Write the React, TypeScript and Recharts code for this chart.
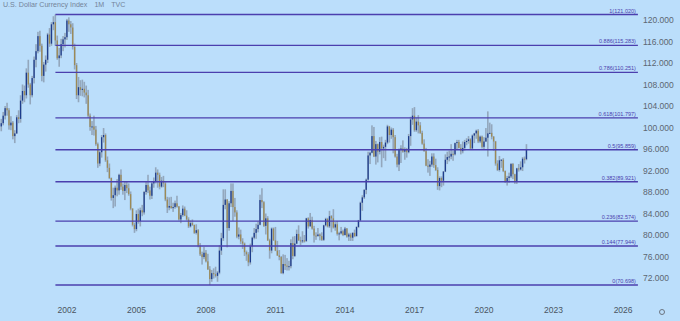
import React from "react";
import {
  ComposedChart,
  Bar,
  XAxis,
  YAxis,
  ReferenceLine,
} from "recharts";

// U.S. Dollar Index, monthly candles, Mar 1999 .. Nov 2021
const START_YEAR = 1999;
const START_MONTH = 3;

const OPEN = [
  100.2, 100.8, 102.2, 103.6, 103.2, 100.4, 100.9, 98.4, 98.9, 101.9, // 1999
  101.6, 105.0, 106.8, 106.0, 110.2, 108.0, 106.0, 109.2, 112.6, 114.2, 117.0, 115.2, // 2000
  109.6, 111.7, 112.6, 117.3, 115.6, 119.2, 119.6, 116.2, 112.9, 113.4, 115.5, 116.4, // 2001
  116.8, 119.9, 119.2, 118.6, 115.0, 111.6, 106.0, 107.5, 107.0, 107.2, 106.5, 106.0, // 2002
  102.2, 100.1, 100.2, 99.6, 96.9, 93.3, 95.4, 98.2, 98.6, 93.9, 92.5, 90.6, // 2003
  86.9, 87.4, 88.8, 88.3, 91.2, 89.0, 88.2, 89.3, 88.7, 87.6, 84.9, 81.9, // 2004
  81.1, 83.9, 82.6, 84.6, 84.2, 88.0, 89.3, 88.3, 87.3, 89.6, 89.9, 91.6, // 2005
  91.2, 89.0, 90.1, 89.6, 86.6, 85.1, 85.4, 85.0, 85.2, 85.9, 85.3, 82.9, // 2006
  83.7, 84.9, 83.6, 82.9, 81.6, 82.2, 81.9, 80.4, 80.9, 78.0, 76.4, 75.9, // 2007
  76.7, 75.1, 73.6, 71.8, 72.9, 72.7, 72.4, 73.0, 77.1, 79.4, 85.6, 86.6, // 2008
  81.3, 85.9, 88.2, 85.2, 84.2, 79.7, 80.1, 78.8, 78.4, 76.8, 76.4, 74.9, // 2009
  77.9, 79.5, 80.4, 81.1, 81.9, 86.5, 86.1, 81.7, 83.1, 79.0, 77.1, 81.2, // 2010
  79.0, 77.1, 76.2, 75.9, 72.9, 74.6, 74.3, 74.1, 74.2, 78.5, 76.1, 78.4, // 2011
  80.2, 79.0, 78.9, 79.0, 78.9, 83.1, 81.6, 82.8, 81.2, 79.9, 79.8, 80.1, // 2012
  79.8, 79.1, 81.8, 83.0, 81.6, 83.5, 83.1, 81.4, 82.0, 80.2, 80.3, 80.7, // 2013
  80.0, 81.2, 79.7, 80.1, 79.5, 80.4, 79.8, 81.5, 82.7, 86.0, 87.0, 88.4, // 2014
  90.3, 94.8, 95.3, 98.4, 94.6, 96.9, 95.5, 97.3, 96.1, 96.4, 97.2, 100.2, // 2015
  98.6, 99.6, 98.2, 94.6, 93.1, 95.9, 96.1, 95.5, 96.0, 95.4, 98.4, 101.5, // 2016
  102.2, 99.5, 101.1, 100.4, 99.0, 97.0, 95.6, 92.9, 92.7, 93.1, 94.6, 93.0, // 2017
  92.1, 89.1, 90.6, 90.1, 91.8, 94.0, 94.5, 94.6, 95.1, 95.0, 97.1, 97.3, // 2018
  96.2, 95.6, 96.2, 97.3, 97.5, 97.8, 96.1, 98.5, 98.9, 99.4, 97.4, 98.3, // 2019
  96.4, 97.4, 98.1, 98.9, 99.0, 98.3, 97.4, 93.3, 92.1, 93.9, 94.0, 91.9, // 2020
  89.9, 90.6, 90.9, 93.2, 91.3, 90.0, 92.4, 92.2, 92.6, 94.2, 94.1, // 2021
];

const HIGH = [
  101.6, 102.9, 104.0, 104.6, 103.6, 102.1, 101.2, 99.5, 102.3, 103.2,
  106.0, 108.0, 107.8, 111.0, 112.6, 108.3, 109.6, 113.2, 115.5, 117.8, 118.0, 115.6,
  112.2, 113.4, 117.6, 118.5, 119.6, 120.7, 121.02, 117.1, 114.8, 116.5, 117.0, 117.6,
  120.2, 120.5, 119.8, 119.4, 115.6, 112.0, 109.4, 108.8, 108.9, 108.5, 107.8, 107.0,
  102.6, 101.2, 102.2, 100.3, 97.2, 95.7, 98.6, 99.9, 98.9, 94.6, 93.3, 90.7,
  88.8, 89.2, 90.4, 91.4, 92.2, 89.6, 89.9, 89.9, 89.6, 88.1, 85.0, 82.3,
  84.6, 84.9, 85.1, 85.6, 88.2, 89.9, 91.2, 89.0, 89.9, 90.7, 92.6, 92.2,
  91.6, 90.8, 91.0, 90.0, 87.1, 87.0, 87.1, 86.0, 86.4, 87.3, 85.4, 84.1,
  85.5, 85.3, 84.6, 83.3, 82.7, 82.9, 81.9, 82.0, 81.1, 78.5, 76.9, 77.8,
  77.2, 76.5, 74.2, 73.5, 73.8, 74.1, 73.3, 78.1, 80.4, 88.5, 88.5, 86.7,
  86.3, 89.6, 89.6, 86.9, 84.6, 81.4, 81.0, 79.4, 78.6, 77.1, 76.8, 78.4,
  79.7, 81.3, 82.1, 82.5, 87.5, 88.7, 86.3, 84.0, 83.5, 79.3, 81.4, 81.4,
  81.5, 78.9, 77.2, 76.1, 76.4, 76.3, 75.7, 75.2, 79.2, 79.7, 79.8, 81.0,
  81.8, 79.7, 80.7, 80.0, 83.2, 83.3, 84.1, 83.4, 81.7, 80.5, 81.3, 80.3,
  80.5, 81.9, 83.2, 83.2, 84.5, 83.7, 84.8, 82.4, 82.6, 80.6, 81.5, 81.0,
  81.5, 81.3, 80.4, 80.4, 80.5, 81.0, 81.6, 82.8, 86.2, 87.4, 88.5, 90.5,
  95.5, 95.5, 100.4, 100.1, 97.5, 97.0, 98.2, 98.3, 96.8, 97.7, 100.5, 100.3,
  100.0, 99.9, 98.6, 95.1, 96.1, 96.7, 97.6, 96.3, 96.2, 98.8, 102.0, 103.6,
  103.8, 101.8, 102.3, 101.0, 99.4, 97.8, 96.2, 94.1, 93.8, 95.2, 95.2, 94.2,
  92.6, 90.9, 90.9, 91.9, 95.0, 95.5, 95.7, 96.9, 95.7, 97.2, 97.7, 97.7,
  96.9, 97.4, 97.7, 98.0, 98.4, 98.0, 98.7, 99.0, 99.6, 99.7, 98.5, 98.5,
  98.2, 99.9, 103.0, 100.9, 100.6, 98.4, 97.5, 93.9, 94.7, 94.1, 94.3, 92.0,
  91.0, 91.6, 93.4, 93.4, 91.4, 92.5, 93.2, 93.7, 94.5, 94.6, 96.9,
];

const LOW = [
  99.3, 100.4, 101.5, 102.2, 99.6, 99.5, 97.8, 97.1, 98.8, 100.8,
  100.9, 104.4, 104.7, 105.4, 107.4, 104.3, 105.6, 108.2, 111.2, 113.8, 114.1, 108.6,
  108.4, 110.4, 112.0, 115.0, 115.2, 118.1, 115.2, 112.6, 111.3, 112.9, 114.2, 114.9,
  116.3, 117.8, 117.4, 114.5, 110.8, 105.3, 104.7, 105.9, 105.8, 105.6, 104.4, 101.8,
  99.4, 98.6, 98.5, 96.6, 92.5, 92.8, 94.4, 97.2, 93.6, 91.7, 90.4, 86.4,
  85.0, 85.3, 87.2, 87.5, 88.4, 87.5, 86.5, 87.8, 87.3, 84.6, 81.6, 80.4,
  80.7, 82.1, 81.6, 83.5, 83.8, 87.5, 87.8, 86.6, 86.7, 88.8, 89.6, 88.8,
  88.5, 88.8, 88.9, 86.3, 84.1, 84.6, 84.9, 84.3, 84.9, 85.1, 82.7, 82.2,
  83.4, 83.5, 82.7, 81.3, 81.4, 81.7, 80.2, 80.1, 77.7, 76.1, 74.5, 75.5,
  74.9, 73.5, 70.7, 71.3, 71.9, 72.1, 71.3, 72.7, 76.3, 78.9, 84.8, 77.7,
  80.8, 85.2, 82.6, 83.4, 79.4, 79.2, 78.3, 77.4, 76.1, 75.2, 74.2, 74.5,
  76.8, 79.2, 79.3, 80.5, 81.8, 85.0, 81.5, 80.1, 78.9, 75.6, 76.6, 78.9,
  77.0, 76.1, 75.3, 72.8, 72.7, 73.5, 73.4, 73.4, 73.8, 75.5, 75.9, 78.3,
  78.9, 78.1, 78.5, 78.6, 78.7, 81.2, 81.6, 81.0, 78.6, 79.1, 79.7, 79.0,
  78.9, 78.9, 81.6, 81.4, 81.3, 80.5, 81.2, 80.8, 79.9, 79.0, 80.1, 79.8,
  79.9, 79.5, 78.9, 78.9, 78.9, 79.6, 79.7, 81.3, 82.6, 84.5, 86.7, 87.6,
  90.1, 93.2, 95.2, 94.5, 93.1, 93.5, 95.0, 92.6, 94.3, 93.8, 96.9, 97.2,
  97.9, 95.2, 94.4, 92.6, 91.9, 93.4, 95.3, 94.0, 94.4, 95.2, 96.6, 100.5,
  99.2, 99.2, 98.9, 98.8, 96.8, 95.5, 92.8, 91.6, 91.0, 92.7, 92.5, 91.9,
  88.4, 88.3, 88.9, 89.2, 91.7, 93.2, 93.7, 94.1, 93.8, 94.8, 96.0, 96.1,
  95.0, 95.2, 95.7, 96.7, 97.0, 95.8, 95.8, 97.1, 97.9, 97.1, 97.1, 96.1,
  96.0, 97.3, 94.6, 98.8, 97.8, 95.7, 92.9, 91.9, 91.8, 92.5, 91.7, 89.7,
  89.2, 89.7, 90.6, 90.4, 89.5, 89.5, 91.8, 92.0, 91.9, 93.3, 93.9,
];

const CLOSE = [
  100.8, 102.2, 103.6, 103.2, 100.4, 100.9, 98.4, 98.9, 101.9, 101.6,
  105.0, 106.8, 106.0, 110.2, 108.0, 106.0, 109.2, 112.6, 114.2, 117.0, 115.2, 109.6,
  111.7, 112.6, 117.3, 115.6, 119.2, 119.6, 116.2, 112.9, 113.4, 115.5, 116.4, 116.8,
  119.9, 119.2, 118.6, 115.0, 111.6, 106.0, 107.5, 107.0, 107.2, 106.5, 106.0, 102.2,
  100.1, 100.2, 99.6, 96.9, 93.3, 95.4, 98.2, 98.6, 93.9, 92.5, 90.6, 86.9,
  87.4, 88.8, 88.3, 91.2, 89.0, 88.2, 89.3, 88.7, 87.6, 84.9, 81.9, 81.1,
  83.9, 82.6, 84.6, 84.2, 88.0, 89.3, 88.3, 87.3, 89.6, 89.9, 91.6, 91.2,
  89.0, 90.1, 89.6, 86.6, 85.1, 85.4, 85.0, 85.2, 85.9, 85.3, 82.9, 83.7,
  84.9, 83.6, 82.9, 81.6, 82.2, 81.9, 80.4, 80.9, 78.0, 76.4, 75.9, 76.7,
  75.1, 73.6, 71.8, 72.9, 72.7, 72.4, 73.0, 77.1, 79.4, 85.6, 86.6, 81.3,
  85.9, 88.2, 85.2, 84.2, 79.7, 80.1, 78.8, 78.4, 76.8, 76.4, 74.9, 77.9,
  79.5, 80.4, 81.1, 81.9, 86.5, 86.1, 81.7, 83.1, 79.0, 77.1, 81.2, 79.0,
  77.1, 76.2, 75.9, 72.9, 74.6, 74.3, 74.1, 74.2, 78.5, 76.1, 78.4, 80.2,
  79.0, 78.9, 79.0, 78.9, 83.1, 81.6, 82.8, 81.2, 79.9, 79.8, 80.1, 79.8,
  79.1, 81.8, 83.0, 81.6, 83.5, 83.1, 81.4, 82.0, 80.2, 80.3, 80.7, 80.0,
  81.2, 79.7, 80.1, 79.5, 80.4, 79.8, 81.5, 82.7, 86.0, 87.0, 88.4, 90.3,
  94.8, 95.3, 98.4, 94.6, 96.9, 95.5, 97.3, 96.1, 96.4, 97.2, 100.2, 98.6,
  99.6, 98.2, 94.6, 93.1, 95.9, 96.1, 95.5, 96.0, 95.4, 98.4, 101.5, 102.2,
  99.5, 101.1, 100.4, 99.0, 97.0, 95.6, 92.9, 92.7, 93.1, 94.6, 93.0, 92.1,
  89.1, 90.6, 90.1, 91.8, 94.0, 94.5, 94.6, 95.1, 95.0, 97.1, 97.3, 96.2,
  95.6, 96.2, 97.3, 97.5, 97.8, 96.1, 98.5, 98.9, 99.4, 97.4, 98.3, 96.4,
  97.4, 98.1, 98.9, 99.0, 98.3, 97.4, 93.3, 92.1, 93.9, 94.0, 91.9, 89.9,
  90.6, 90.9, 93.2, 91.3, 90.0, 92.4, 92.2, 92.6, 94.2, 94.1, 96.0,
];

// Fibonacci retracement drawn from the Jul 2001 high to the Mar 2008 low
const FIB_RATIOS = ["1", "0.886", "0.786", "0.618", "0.5", "0.382", "0.236", "0.144", "0"];
const FIB_PRICES = [121.02, 115.283, 110.251, 101.797, 95.859, 89.921, 82.574, 77.944, 70.698];
const FIB_FROM = 2001.5;
const FIB_TO = 2026.64;

const YEAR_TICKS = [2002, 2005, 2008, 2011, 2014, 2017, 2020, 2023, 2026];
const PRICE_TICKS = [72, 76, 80, 84, 88, 92, 96, 100, 104, 108, 112, 116, 120];
const TITLE_PARTS = ["U.S. Dollar Currency Index", "1M", "TVC"];

const BG = "#bbdefb";
const UP = "#1d3c8c";
const DOWN = "#9c8a56";
const WICK = "#8c9db2";
const FIB = "#4b3fae";

const data = CLOSE.map((c, i) => ({
  t: START_YEAR + (START_MONTH - 1 + i) / 12,
  open: OPEN[i],
  high: HIGH[i],
  low: LOW[i],
  close: c,
  range: [LOW[i], HIGH[i]],
}));

const Candle = (props: any) => {
  const { x, y, width, height, payload } = props;
  if (!payload || x == null || y == null) return null;
  const top = Math.min(y, y + height);
  const span = Math.abs(height);
  const ppu = span / (payload.high - payload.low || 1);
  const up = payload.close >= payload.open;
  const bodyTop = top + (payload.high - Math.max(payload.open, payload.close)) * ppu;
  const bodyH = Math.max(Math.abs(payload.close - payload.open) * ppu, 1);
  const cx = x + width / 2;
  return (
    <g>
      <rect x={cx - 0.8} y={top} width={1.6} height={span} fill={WICK} fillOpacity={0.85} />
      <rect x={cx - 0.65} y={bodyTop} width={1.3} height={bodyH} fill={up ? UP : DOWN} />
    </g>
  );
};

const fibLabel = (text: string) => (p: any) => {
  const vb = p?.viewBox;
  if (!vb) return null;
  return (
    <text
      x={vb.x + vb.width - 2}
      y={vb.y - 2}
      textAnchor="end"
      fontSize={5.5}
      fontFamily="Liberation Sans, Arial, sans-serif"
      fill={FIB}
    >
      {text}
    </text>
  );
};

export default function App() {
  return (
    <div
      style={{
        position: "absolute",
        left: 0,
        top: 0,
        width: 680,
        height: 321,
        background: BG,
        overflow: "hidden",
      }}
    >
      <div
        style={{
          position: "absolute",
          left: 3,
          top: 1,
          fontSize: 7.1,
          color: "#74849a",
          fontFamily: "Liberation Sans, Arial, sans-serif",
          whiteSpace: "nowrap",
          zIndex: 2,
        }}
      >
        {TITLE_PARTS.map((s, i) => (
          <span key={s} style={{ marginLeft: i === 0 ? 0 : 7 }}>
            {s}
          </span>
        ))}
      </div>
      <div
        style={{
          position: "absolute",
          left: 659,
          top: 309,
          width: 4,
          height: 4,
          borderRadius: "50%",
          border: "1.5px solid #6b7480",
        }}
      />
      <ComposedChart
        width={680}
        height={321}
        data={data}
        margin={{ top: 0, right: 0, bottom: 0, left: 0 }}
      >
        <XAxis
          dataKey="t"
          type="number"
          domain={[1999.108, 2026.73]}
          allowDataOverflow
          ticks={YEAR_TICKS}
          tickFormatter={(v: number) => String(Math.round(v))}
          height={23}
          axisLine={false}
          tickLine={false}
          tickSize={6}
          tickMargin={3}
          tick={{
            fontSize: 8.5,
            fill: "#4a5561",
            fontFamily: "Liberation Sans, Arial, sans-serif",
          }}
        />
        <YAxis
          orientation="right"
          type="number"
          domain={[68.28, 123.72]}
          allowDataOverflow
          ticks={PRICE_TICKS}
          tickFormatter={(v: number) => v.toFixed(3)}
          width={40}
          axisLine={false}
          tickLine={false}
          tickSize={0}
          tickMargin={3}
          tick={{
            fontSize: 8.5,
            fill: "#5b6672",
            fontFamily: "Liberation Sans, Arial, sans-serif",
          }}
        />
        {FIB_PRICES.map((p, i) => (
          <ReferenceLine
            key={FIB_RATIOS[i]}
            segment={[
              { x: FIB_FROM, y: p },
              { x: FIB_TO, y: p },
            ]}
            stroke={FIB}
            strokeWidth={1.4}
            ifOverflow="visible"
            label={fibLabel(`${FIB_RATIOS[i]}(${p.toFixed(3)})`)}
          />
        ))}
        <Bar
          dataKey="range"
          barSize={2}
          shape={Candle}
          isAnimationActive={false}
        />
      </ComposedChart>
    </div>
  );
}
